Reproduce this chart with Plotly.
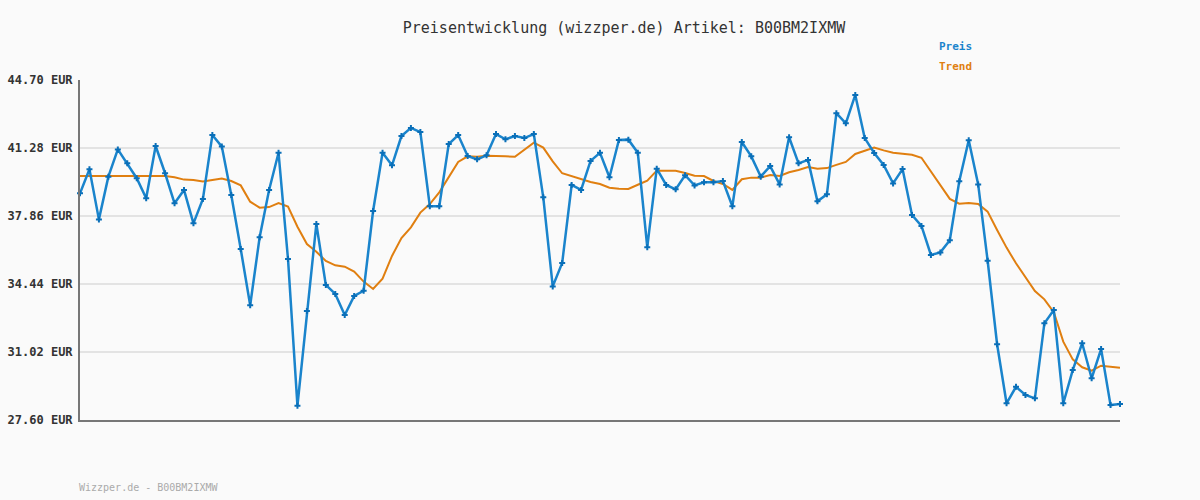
import plotly.graph_objects as go

title_text = "Preisentwicklung (wizzper.de) Artikel: B00BM2IXMW"
footer_text = "Wizzper.de - B00BM2IXMW"

preis = [39.00, 40.21, 37.69, 39.84, 41.21, 40.51, 39.76, 38.75, 41.38, 40.01,
         38.50, 39.17, 37.49, 38.72, 41.93, 41.35, 38.92, 36.20, 33.37, 36.79,
         39.17, 41.04, 35.70, 28.32, 33.08, 37.46, 34.39, 33.94, 32.88, 33.84,
         34.10, 38.11, 41.04, 40.41, 41.88, 42.29, 42.08, 38.35, 38.35, 41.48,
         41.93, 40.88, 40.71, 40.91, 41.98, 41.72, 41.88, 41.78, 41.98, 38.80,
         34.32, 35.50, 39.42, 39.17, 40.63, 41.04, 39.81, 41.68, 41.70, 41.04,
         36.29, 40.24, 39.42, 39.20, 39.91, 39.40, 39.56, 39.56, 39.62, 38.35,
         41.58, 40.86, 39.84, 40.37, 39.45, 41.82, 40.51, 40.68, 38.60, 38.95,
         43.03, 42.52, 43.95, 41.78, 41.03, 40.43, 39.50, 40.22, 37.91, 37.36,
         35.90, 36.03, 36.64, 39.61, 41.67, 39.45, 35.61, 31.41, 28.44, 29.27,
         28.86, 28.69, 32.46, 33.13, 28.44, 30.11, 31.46, 29.70, 31.17, 28.35,
         28.40]

trend = [39.87, 39.87, 39.87, 39.87, 39.87, 39.87, 39.87, 39.87, 39.87, 39.87,
         39.81, 39.69, 39.67, 39.59, 39.67, 39.74, 39.62, 39.40, 38.58, 38.28,
         38.31, 38.51, 38.33, 37.32, 36.45, 36.06, 35.60, 35.38, 35.31, 35.06,
         34.56, 34.19, 34.71, 35.85, 36.75, 37.29, 38.03, 38.46, 39.05, 39.81,
         40.58, 40.86, 40.84, 40.89, 40.89, 40.86, 40.84, 41.19, 41.55, 41.30,
         40.61, 40.01, 39.86, 39.71, 39.57, 39.47, 39.28, 39.23, 39.22, 39.43,
         39.64, 40.14, 40.14, 40.14, 40.02, 39.89, 39.87, 39.62, 39.47, 39.17,
         39.71, 39.79, 39.79, 39.92, 39.87, 40.06, 40.17, 40.32, 40.24, 40.27,
         40.43, 40.58, 40.98, 41.14, 41.30, 41.16, 41.04, 40.99, 40.94, 40.79,
         40.09, 39.40, 38.72, 38.48, 38.51, 38.46, 38.08, 37.16, 36.27, 35.48,
         34.78, 34.09, 33.67, 33.02, 31.54, 30.65, 30.25, 30.08, 30.33, 30.28,
         30.23]

x_index = list(range(len(preis)))

y_tickvals = [27.60, 31.02, 34.44, 37.86, 41.28, 44.70]
y_ticktext = ["27.60 EUR", "31.02 EUR", "34.44 EUR", "37.86 EUR", "41.28 EUR", "44.70 EUR"]

blue = "#1a84cc"
orange = "#e07f10"
mono = "DejaVu Sans Mono"

W, H = 1200, 500
L, R, T, B = 80, 80, 80, 80

fig = go.Figure()
fig.add_trace(go.Scatter(
    x=x_index, y=trend, mode="lines", name="Trend",
    line=dict(color=orange, width=2), cliponaxis=False, hoverinfo="skip"))
fig.add_trace(go.Scatter(
    x=x_index, y=preis, mode="lines+markers", name="Preis",
    line=dict(color=blue, width=2.5),
    marker=dict(symbol="cross", size=5, color="#0a6fb8"),
    cliponaxis=False))

pw, ph = W - L - R, H - T - B
def px(xp):
    return (xp - L) / pw
def py(yp):
    return (H - B - yp) / ph

fig.update_layout(
    width=W, height=H,
    margin=dict(l=L, r=R, t=T, b=B, autoexpand=False),
    paper_bgcolor="#fafafa", plot_bgcolor="#fafafa",
    showlegend=False,
    title=dict(text=title_text, x=624 / W, xanchor="center", y=1 - 28 / H, yanchor="middle",
               font=dict(family=mono, size=15, color="#333333")),
    xaxis=dict(range=[0, len(preis) - 1], showgrid=False, showticklabels=False,
               zeroline=False, showline=True, linecolor="#777777", linewidth=2, ticks="",
               automargin=False),
    yaxis=dict(range=[27.60, 44.70], tickvals=y_tickvals, ticktext=y_ticktext,
               showgrid=True, gridcolor="#e3e3e3", gridwidth=2, zeroline=False,
               showline=True, linecolor="#777777", linewidth=2, ticks="",
               ticklabelstandoff=3, automargin=False,
               tickfont=dict(family=mono, size=12, color="#333333", weight="bold")),
)

fig.add_annotation(text="Preis", x=px(937), y=py(47), xref="paper", yref="paper",
                   xanchor="left", yanchor="middle", showarrow=False,
                   font=dict(family=mono, size=11, color=blue, weight="bold"))
fig.add_annotation(text="Trend", x=px(937), y=py(67), xref="paper", yref="paper",
                   xanchor="left", yanchor="middle", showarrow=False,
                   font=dict(family=mono, size=11, color=orange, weight="bold"))
fig.add_annotation(text=footer_text, x=px(77), y=py(487), xref="paper", yref="paper",
                   xanchor="left", yanchor="middle", showarrow=False,
                   font=dict(family=mono, size=10, color="#aaaaaa"))

fig.write_html("out.html", config={"displayModeBar": False},
               post_script="document.body.style.margin='0';document.body.style.background='#fafafa';document.body.style.overflow='hidden';")
